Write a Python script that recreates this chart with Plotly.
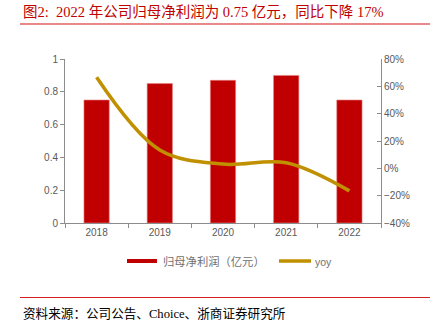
import plotly.graph_objects as go

years = ["2018", "2019", "2020", "2021", "2022"]
profit = [0.75, 0.85, 0.87, 0.90, 0.75]
yoy = [0.666, 0.134, 0.031, 0.041, -0.165]

title_text = "图2:  2022 年公司归母净利润为 0.75 亿元，同比下降 17%"
source_text = "资料来源：公司公告、Choice、浙商证券研究所"
bar_name = "归母净利润（亿元）"
line_name = "yoy"

W, H = 436, 330
L, R, T, B = 65, 381, 59, 223
def px(x): return (x - L) / (R - L)
def py(y): return (B - y) / (B - T)

BAR = "#C00000"
LINE = "#C09000"
GRAY = "#595959"
AX = "#8c8c8c"
serif = "Liberation Serif, Noto Sans CJK SC, serif"
sans = "Liberation Sans, Noto Sans CJK SC, sans-serif"

fig = go.Figure()
fig.add_trace(go.Bar(x=years, y=profit, name=bar_name, marker=dict(color=BAR, line=dict(color="#e88080", width=0.6)),
                     width=0.4, showlegend=False))
fig.add_trace(go.Scatter(x=years, y=yoy, name=line_name, yaxis="y2", mode="lines",
                         line=dict(color=LINE, width=3.5, shape="spline", smoothing=1.0), showlegend=False))

shapes = [
    dict(type="line", xref="paper", yref="paper", x0=px(20), x1=px(430), y0=py(24), y1=py(24),
         line=dict(color="#e06060", width=1.5)),
    dict(type="line", xref="paper", yref="paper", x0=px(20), x1=px(430), y0=py(297.5), y1=py(297.5),
         line=dict(color="#d42020", width=1.2)),
    dict(type="rect", xref="paper", yref="paper", x0=px(127), x1=px(157), y0=py(263), y1=py(259),
         fillcolor=BAR, line=dict(width=0)),
    dict(type="line", xref="paper", yref="paper", x0=px(279), x1=px(311), y0=py(261), y1=py(261),
         line=dict(color=LINE, width=3.5)),
]
annotations = [
    dict(text=title_text, xref="paper", yref="paper", x=px(21), y=py(12), xanchor="left", yanchor="middle",
         showarrow=False, font=dict(family=serif, size=14.5, color="#C00000")),
    dict(text=source_text, xref="paper", yref="paper", x=px(21), y=py(313), xanchor="left", yanchor="middle",
         showarrow=False, font=dict(family=serif, size=12.6, color="#000000")),
    dict(text=bar_name, xref="paper", yref="paper", x=px(161), y=py(261), xanchor="left", yanchor="middle",
         showarrow=False, font=dict(family=sans, size=11.3, color="#707070")),
    dict(text=line_name, xref="paper", yref="paper", x=px(313), y=py(262), xanchor="left", yanchor="middle",
         showarrow=False, font=dict(family=sans, size=10.5, color="#707070")),
]

fig.update_layout(
    width=W, height=H, margin=dict(l=L, r=W - R, t=T, b=H - B),
    paper_bgcolor="white", plot_bgcolor="white", showlegend=False,
    shapes=shapes, annotations=annotations, bargap=0.6,
    xaxis=dict(type="category", showline=True, linecolor=AX, linewidth=1, ticks="outside",
               tickson="boundaries", ticklen=4, tickcolor=AX, showgrid=False,
               tickfont=dict(family=sans, size=10, color=GRAY)),
    yaxis=dict(range=[0, 1], dtick=0.2, showline=True, linecolor=AX, ticks="outside", ticklen=4,
               tickcolor=AX, showgrid=False, zeroline=False, tickformat="~g",
               tickfont=dict(family=sans, size=10, color=GRAY)),
    yaxis2=dict(range=[-0.4, 0.8], dtick=0.2, overlaying="y", side="right", showline=True, linecolor=AX,
                ticks="inside", ticklen=4, tickcolor=AX, showgrid=False, zeroline=False, tickformat=".0%",
                tickfont=dict(family=sans, size=10, color=GRAY)),
)
fig.write_html("out.html")
